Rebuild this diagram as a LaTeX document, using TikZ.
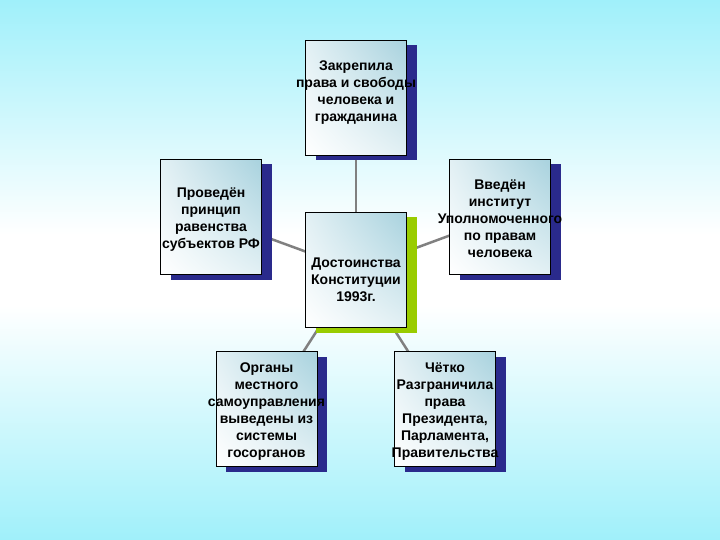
\documentclass[tikz,border=0pt]{standalone}
\usepackage{fontspec}
\setmainfont{Liberation Sans}
\usetikzlibrary{shadows,backgrounds,shadings}
\definecolor{bgcyan}{RGB}{160,240,250}
\definecolor{navyshadow}{RGB}{42,42,140}
\definecolor{greenshadow}{RGB}{153,204,0}
\definecolor{boxteal}{RGB}{168,210,222}
\definecolor{boxpale}{RGB}{226,240,244}
\definecolor{linkgray}{RGB}{128,128,128}
\newcommand{\cardtext}[1]{\makebox[0pt]{\raisebox{-6.5pt}[0pt][0pt]{\begin{tabular}[c]{@{}c@{}}#1\end{tabular}}}}
\tikzset{
  card/.style={draw=black, line width=0.8pt, minimum width=101pt, minimum height=115pt,
    inner sep=0pt, font=\fontsize{14}{17}\selectfont\bfseries,
    upper left=boxpale, upper right=boxteal, lower left=white, lower right=boxpale},
  navycard/.style={card, general shadow={fill=navyshadow, shadow xshift=10pt, shadow yshift=-5pt}},
  greencard/.style={card, general shadow={fill=greenshadow, shadow xshift=10pt, shadow yshift=-5pt}},
  link/.style={draw=linkgray, line width=2.5pt}
}
\begin{document}
\begin{tikzpicture}[x=1pt,y=-1pt]
\useasboundingbox (0,0) rectangle (720,540);
\node[navycard] (t) at (356,98) {\cardtext{Закрепила\\права и свободы\\человека и\\гражданина\\\strut}};
\node[navycard] (l) at (211,217) {\cardtext{Проведён\\принцип\\равенства\\субъектов РФ}};
\node[greencard] (c) at (356,270) {\cardtext{\strut\\Достоинства\\Конституции\\1993г.}};
\node[navycard] (r) at (500,217) {\cardtext{Введён\\институт\\Уполномоченного\\по правам\\человека}};
\node[navycard] (bl) at (266.5,409) {\cardtext{Органы\\местного\\самоуправления\\выведены из\\системы\\госорганов}};
\node[navycard] (br) at (445,409) {\cardtext{Чётко\\Разграничила\\права\\Президента,\\Парламента,\\Правительства}};
\begin{scope}[on background layer]
  \shade[top color=bgcyan, bottom color=white] (0,0) rectangle (720,235);
  \fill[white] (0,234) rectangle (720,306);
  \shade[top color=white, bottom color=bgcyan] (0,305) rectangle (720,540);
  \draw[link] (c.center) -- (t.center);
  \draw[link] (c.center) -- (l.center);
  \draw[link] (c.center) -- (r.center);
  \draw[link] (c.center) -- (bl.center);
  \draw[link] (c.center) -- (br.center);
\end{scope}
\end{tikzpicture}
\end{document}
